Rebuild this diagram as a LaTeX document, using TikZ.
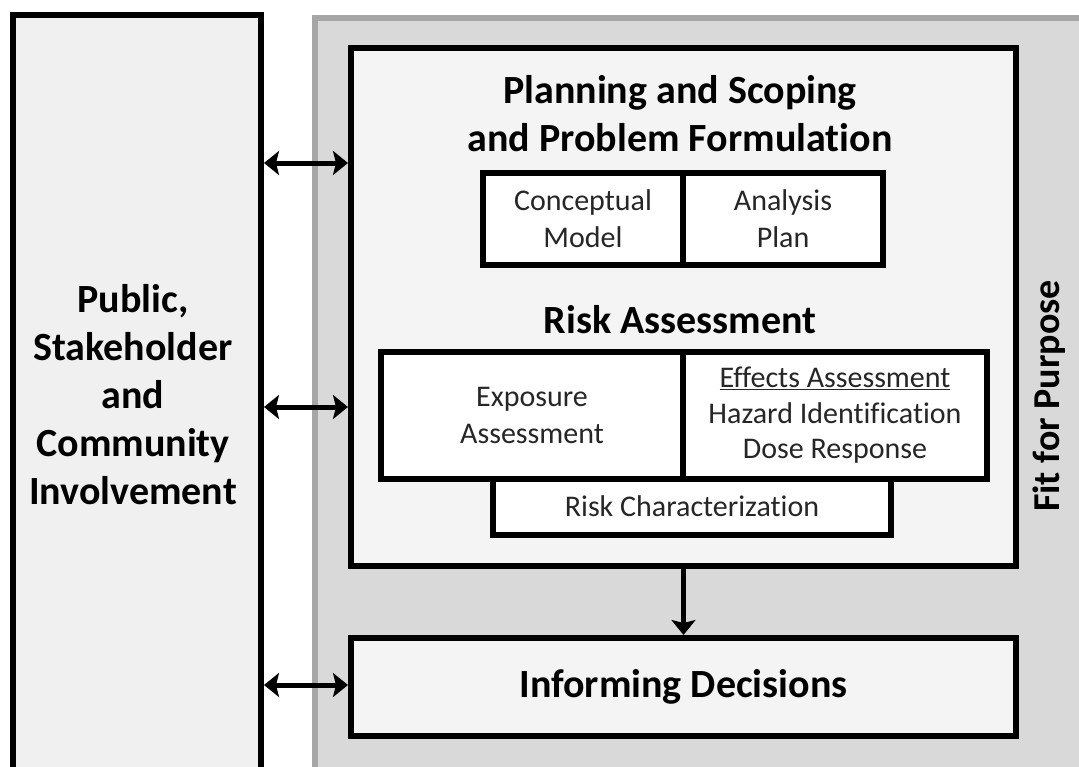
\documentclass[tikz,border=0pt]{standalone}
\usepackage{fontspec}
\setmainfont[Ligatures=NoCommon]{Carlito}
\usetikzlibrary{arrows.meta}
\definecolor{pubfill}{HTML}{F0F0F0}
\definecolor{fitfill}{HTML}{D9D9D9}
\definecolor{fitedge}{HTML}{A6A6A6}
\definecolor{planfill}{HTML}{F4F4F4}
\definecolor{txt}{HTML}{262626}
\begin{document}
\begin{tikzpicture}[x=1pt,y=-1pt,
  blk/.style={draw=black,line width=6pt,anchor=north west,inner sep=0pt},
  big/.style={font=\fontsize{40}{48}\selectfont\bfseries,align=center,text=black},
  small/.style={font=\fontsize{30}{37}\selectfont,align=center,text=txt},
  dblarr/.style={line width=5pt,{Stealth[length=15pt,width=24pt,inset=3pt]}-{Stealth[length=15pt,width=24pt,inset=3pt]}},
  arr/.style={line width=5pt,-{Stealth[length=15pt,width=24pt,inset=3pt]}}]
\useasboundingbox[fill=white] (0,0) rectangle (1079,766);
% left box
\node[blk,fill=pubfill,minimum width=248pt,minimum height=800pt] (pub) at (10,12) {};
\node[big] (pubtxt) at (133,395) {Public,\\Stakeholder\\and\\Community\\Involvement};
% fit for purpose box
\node[blk,draw=fitedge,fill=fitfill,minimum width=770pt,minimum height=800pt] (fit) at (312,15) {};
\node[big,font=\fontsize{38}{46}\selectfont\bfseries,rotate=90] (fittxt) at (1049,396) {Fit for Purpose};
% planning box
\node[blk,fill=planfill,minimum width=665pt,minimum height=518pt] (plan) at (348,45) {};
\node[big] (plantxt) at (680,114) {Planning and Scoping\\and Problem Formulation};
\node[blk,fill=white,minimum width=200pt,minimum height=92pt,small] (cm) at (480,170) {Conceptual\\Model};
\node[blk,fill=white,minimum width=200pt,minimum height=92pt,small] (ap) at (680,170) {Analysis\\Plan};
\node[big] (ratxt) at (680,320) {Risk Assessment};
\node[blk,fill=white,minimum width=398pt,minimum height=57pt,small] (rc) at (490,475) {Risk Characterization};
\node[blk,fill=white,minimum width=302pt,minimum height=127pt,small] (ex) at (378,349) {Exposure\\Assessment};
\node[blk,fill=white,minimum width=304pt,minimum height=127pt,font=\fontsize{30}{35.5}\selectfont,align=center,text=txt] (ef) at (680,349) {\underline{Effects Assessment}\\Hazard Identification\\Dose Response};
% informing box
\node[blk,fill=planfill,minimum width=665pt,minimum height=98pt,big] (inf) at (348,635) {Informing Decisions};
% connectors
\coordinate (a1) at (300,163);
\coordinate (a2) at (300,407);
\coordinate (a3) at (300,685);
\draw[dblarr] (pub.east |- a1) -- (plan.west |- a1);
\draw[dblarr] (pub.east |- a2) -- (plan.west |- a2);
\draw[dblarr] (pub.east |- a3) -- (inf.west |- a3);
\draw[arr] (plan.south) -- (inf.north);
\end{tikzpicture}
\end{document}
